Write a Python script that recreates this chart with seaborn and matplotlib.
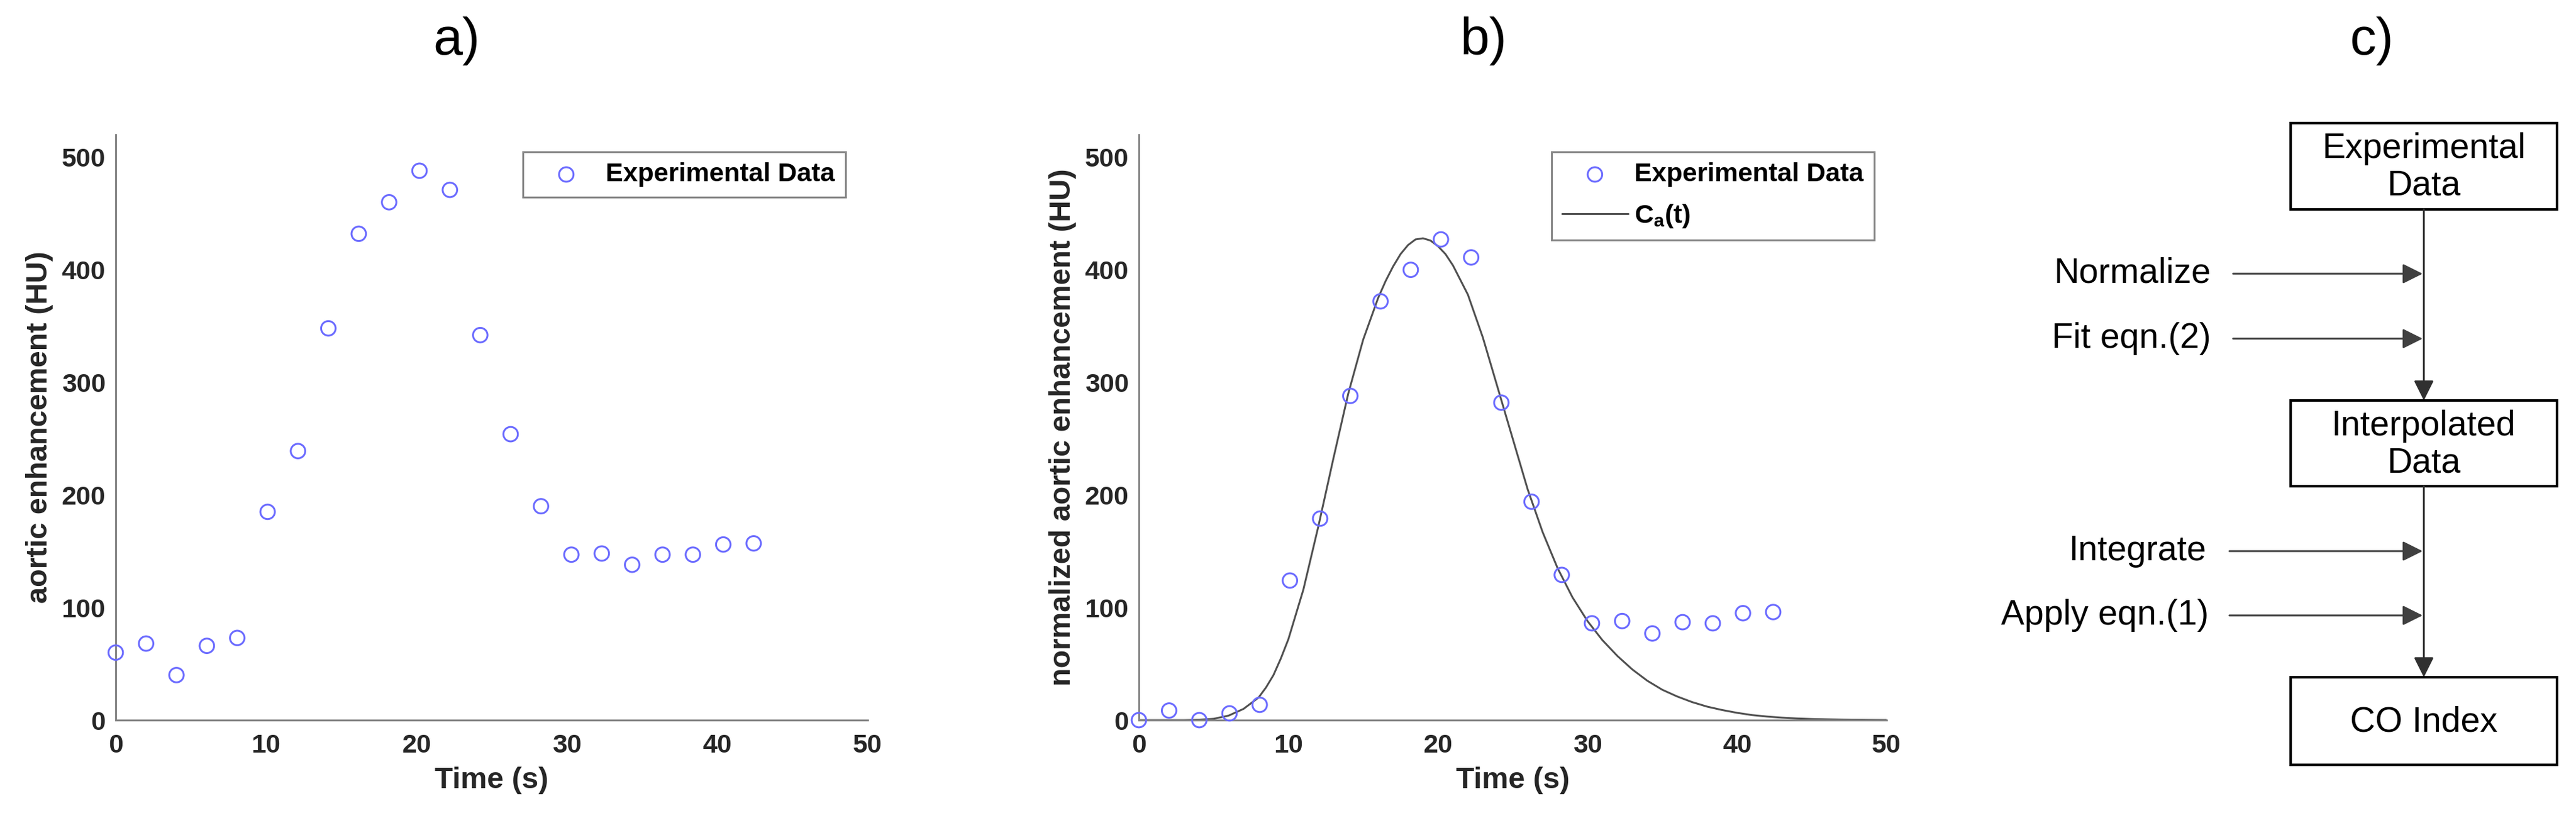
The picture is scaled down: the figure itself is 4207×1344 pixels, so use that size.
import seaborn as sns
import matplotlib.pyplot as plt
from matplotlib.patches import Rectangle

# ---- values ----
time_s = [0, 2.02, 4.04, 6.06, 8.08, 10.1, 12.12, 14.14, 16.16, 18.18, 20.2,
          22.22, 24.24, 26.26, 28.28, 30.3, 32.32, 34.34, 36.36, 38.38, 40.4, 42.42]
aortic_hu = [60, 68, 40, 66, 73, 185, 239, 348, 432, 460, 488,
             471, 342, 254, 190, 147, 148, 138, 147, 147, 156, 157]
norm_hu = [0, 8.5, 0, 6, 13.6, 124, 179, 288, 372, 400, 427,
           411, 282, 194, 129, 86, 88, 77, 87, 86, 95, 96]

# fitted curve C_a(t)
fit_t = [0, 1, 2, 3, 4, 5, 6, 7, 8, 8.5, 9, 9.5, 10, 11, 12, 13, 14, 15, 16, 16.5,
         17, 17.5, 18, 18.5, 19, 19.5, 20, 20.5, 21, 22, 23, 24, 25, 26, 27, 28,
         29, 30, 31, 32, 33, 34, 35, 36, 37, 38, 39, 40, 41, 42, 43, 44, 45, 46,
         47, 48, 49, 50]
fit_hu = [0, 0, 0, 0, 0.3, 1.2, 4, 10, 20, 29, 40, 55, 72, 116, 172, 232, 290,
          338, 375, 390, 403, 414, 422, 427, 428, 426, 421, 414, 404, 378, 340,
          295, 250, 205, 167, 135, 109, 88, 71, 57, 45, 35, 27, 21, 16, 12, 9,
          6.5, 4.5, 3.2, 2.2, 1.5, 1.0, 0.7, 0.45, 0.3, 0.18, 0.1]

x_ticks = [0, 10, 20, 30, 40, 50]
y_ticks = [0, 100, 200, 300, 400, 500]
panel_titles = ['a)', 'b)', 'c)']
y_labels = ['aortic enhancement (HU)', 'normalized aortic enhancement (HU)']
x_label = 'Time (s)'
box_labels = ['Experimental\nData', 'Interpolated\nData', 'CO Index']
step_labels = ['Normalize', 'Fit eqn.(2)', 'Integrate', 'Apply eqn.(1)']

sns.set_style('white')
plt.rcParams['font.family'] = ['Liberation Sans', 'DejaVu Sans']
plt.rcParams['mathtext.fontset'] = 'custom'
plt.rcParams['mathtext.rm'] = 'Liberation Sans'
plt.rcParams['mathtext.bf'] = 'Liberation Sans:bold'
plt.rcParams['mathtext.it'] = 'Liberation Sans:italic'

W, H = 4207, 1344
fig = plt.figure(figsize=(W / 100, H / 100), dpi=100)


def px_rect(left, right, top, bottom):
    return [left / W, 1 - bottom / H, (right - left) / W, (bottom - top) / H]


ax_a = fig.add_axes(px_rect(189, 1417, 220, 1176))
ax_b = fig.add_axes(px_rect(1860, 3081, 220, 1176))

dot_color = '#6b6bff'
axis_gray = '#858585'
text_dark = '#262626'


def hollow_points(ax, y, label):
    sns.scatterplot(x=time_s, y=y, ax=ax, marker='o', s=290, color=dot_color,
                    linewidth=2.2, label=label, clip_on=False, zorder=3)
    pts = ax.collections[-1]
    pts.set_facecolor('none')
    pts.set_edgecolor(dot_color)
    return pts


def style_axes(ax, ylabel):
    ax.set_xlim(0, 50)
    ax.set_ylim(0, 520)
    ax.set_xticks(x_ticks)
    ax.set_yticks(y_ticks)
    sns.despine(ax=ax)
    for side in ['left', 'bottom']:
        ax.spines[side].set_color(axis_gray)
        ax.spines[side].set_linewidth(2.2)
    ax.tick_params(direction='in', length=9.5, width=2.2, color=axis_gray,
                   labelsize=31, labelcolor=text_dark)
    ax.tick_params(axis='x', pad=16)
    ax.tick_params(axis='y', pad=12)
    for lab in ax.get_xticklabels() + ax.get_yticklabels():
        lab.set_fontweight('bold')
    ax.set_xlabel(x_label, fontsize=35, fontweight='bold', color=text_dark, labelpad=10)
    ax.set_ylabel(ylabel, fontsize=35, fontweight='bold', color=text_dark, labelpad=10)


def make_legend(ax, handles, anchor):
    leg = ax.legend(handles=handles, loc='upper right', bbox_to_anchor=anchor,
                    borderaxespad=0, fontsize=31, handlelength=2.5,
                    handletextpad=0.25, borderpad=0.4, labelspacing=0.6,
                    frameon=True, fancybox=False, edgecolor=axis_gray,
                    framealpha=1, scatterpoints=1)
    leg.get_frame().set_linewidth(2.2)
    for t in leg.get_texts():
        t.set_fontweight('bold')
        t.set_color('black')


# a) raw enhancement
pts_a = hollow_points(ax_a, aortic_hu, 'Experimental Data')
style_axes(ax_a, y_labels[0])
make_legend(ax_a, [pts_a], (0.9707, 0.9707))

# b) normalized enhancement with fitted curve
sns.lineplot(x=fit_t, y=fit_hu, ax=ax_b, color='#505050', linewidth=2.2,
             label=r'$\mathbf{C_a(t)}$', zorder=2)
fit_line = ax_b.lines[-1]
pts_b = hollow_points(ax_b, norm_hu, 'Experimental Data')
style_axes(ax_b, y_labels[1])
make_legend(ax_b, [pts_b, fit_line], (0.9836, 0.9707))

# c) flow chart, drawn in pixel coordinates
ax_c = fig.add_axes([3250 / W, 0, (W - 3250) / W, 1])
ax_c.set_xlim(3250, W)
ax_c.set_ylim(H, 0)
ax_c.axis('off')

box_left, box_right = 3741, 4176
box_rows = [(201, 342), (654, 794), (1106, 1249)]
mid_x = (box_left + box_right) / 2
for (top, bottom), lab in zip(box_rows, box_labels):
    ax_c.add_patch(Rectangle((box_left, top), box_right - box_left, bottom - top,
                             fill=False, edgecolor='black', linewidth=3))
    ax_c.text(mid_x, (top + bottom) / 2 + 2, lab, ha='center', va='center',
              fontsize=41, linespacing=1.15, color='black')

head = '-|>,head_length=1.0,head_width=0.5'
for i in range(2):
    ax_c.annotate('', xy=(mid_x, box_rows[i + 1][0]), xytext=(mid_x, box_rows[i][1]),
                  arrowprops=dict(arrowstyle=head, mutation_scale=20, lw=2.2,
                                  color='#303030', shrinkA=0, shrinkB=0))

step_y = [447, 553, 900, 1005]
step_start = [3647, 3647, 3641, 3641]
step_text_right = [3611, 3611, 3604, 3607]
for y, x0, xr, lab in zip(step_y, step_start, step_text_right, step_labels):
    ax_c.annotate('', xy=(mid_x - 2, y), xytext=(x0, y),
                  arrowprops=dict(arrowstyle=head, mutation_scale=20, lw=2.2,
                                  color='#404040', shrinkA=0, shrinkB=0))
    ax_c.text(xr, y, lab, ha='right', va='center', fontsize=41, color='black')

# panel letters
for lab, x in zip(panel_titles, [746, 2423, 3873]):
    fig.text(x / W, 1 - 67 / H, lab, ha='center', va='center', fontsize=62, color='black')

fig.savefig('out.png', dpi=100, facecolor='white')
